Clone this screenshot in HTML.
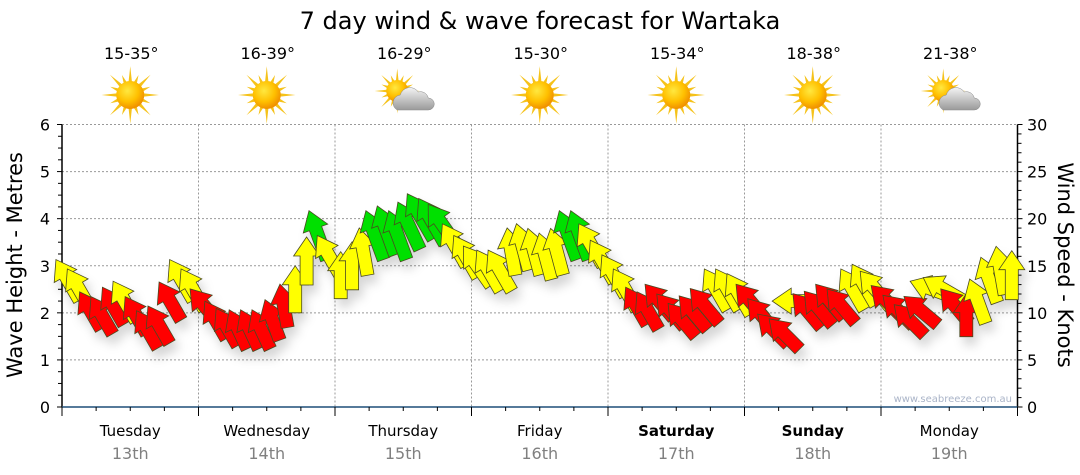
<!DOCTYPE html>
<html><head><meta charset="utf-8"><style>
html,body{margin:0;padding:0;background:#fff;}
svg{display:block;font-family:"DejaVu Sans","Liberation Sans",sans-serif;}
</style></head><body>
<svg id="chart" width="1080" height="475" viewBox="0 0 1080 475" xmlns="http://www.w3.org/2000/svg">
<defs>
<filter id="shadow" x="-50%" y="-50%" width="200%" height="200%"><feDropShadow dx="4" dy="8" stdDeviation="5" flood-color="#000" flood-opacity="0.16"/></filter>
<radialGradient id="sunG" cx="40%" cy="35%" r="65%"><stop offset="0" stop-color="#ffe840"/><stop offset="0.6" stop-color="#ffc000"/><stop offset="1" stop-color="#f09000"/></radialGradient>
<linearGradient id="cloudG" x1="0" y1="0" x2="0" y2="1"><stop offset="0" stop-color="#f4f4f4"/><stop offset="1" stop-color="#9a9a9a"/></linearGradient>
</defs>
<text x="540" y="29" text-anchor="middle" font-size="24" fill="#000">7 day wind &amp; wave forecast for Wartaka</text>
<g id="grid"></g>
<g id="topw"></g>
<g id="axes"></g>
<g id="arrows" filter="url(#shadow)"></g>
<text x="1012" y="402" text-anchor="end" font-size="10" fill="#aab4c8">www.seabreeze.com.au</text>
<text transform="translate(22,265) rotate(-90)" text-anchor="middle" font-size="21" fill="#000">Wave Height - Metres</text>
<text transform="translate(1058,265) rotate(90)" text-anchor="middle" font-size="21" fill="#000">Wind Speed - Knots</text>
</svg>
<script>
const days = ["Tuesday","Wednesday","Thursday","Friday","Saturday","Sunday","Monday"];
const dates = ["13th","14th","15th","16th","17th","18th","19th"];
const temps = ["15-35°","16-39°","16-29°","15-30°","15-34°","18-38°","21-38°"];
const cloudy = [false,false,true,false,false,false,true];
const boldDays = [false,false,false,false,true,true,false];
const waveTicks = [0,1,2,3,4,5,6];
const windTicks = [0,5,10,15,20,25,30];
// 2-hourly: 12 per day
const waveHeight = [
2.7,2.5,2.05,1.95,2.15,2.25,1.95,1.65,1.75,2.25,2.7,2.5,
2.15,1.85,1.7,1.65,1.65,1.65,1.85,2.15,2.5,3.1,3.65,3.2,
2.8,3.0,3.3,3.65,3.75,3.65,3.85,4.05,3.95,3.85,3.45,3.2,
3.0,2.9,2.9,3.3,3.4,3.3,3.2,3.3,3.65,3.65,3.45,3.1,
2.8,2.5,2.15,2.05,2.25,2.05,1.85,2.0,2.15,2.5,2.5,2.4,
2.25,1.95,1.65,1.55,2.25,2.05,2.1,2.25,2.15,2.5,2.6,2.5,
2.25,2.05,1.85,2.05,2.5,2.5,2.15,1.95,2.25,2.7,2.9,2.8];
const windSpeed = [
13,13,9,9,9,12,9,9,9,10,13,13,
10,9,9,9,9,9,9,10,13,14,18,14,
13,14,14,18,18,18,18,18,18,18,14,14,
14,13,13,14,14,14,14,14,18,18,14,14,
13,13,9,9,10,9,9,10,11,13,13,13,
10,9,9,9,13,10,10,10,10,13,13,13,
10,9,9,10,13,13,10,9,13,14,15,15];
const windDir = [
330,330,330,330,330,330,330,330,330,330,330,330,
320,330,330,335,335,335,340,350,0,0,340,330,
0,0,350,340,340,340,335,330,330,325,330,330,
325,330,330,350,345,345,345,345,340,340,330,330,
330,330,330,330,320,320,320,320,320,330,330,330,
320,320,315,315,270,320,320,320,320,330,330,320,
315,315,315,310,290,300,320,0,340,340,350,0];

const NS="http://www.w3.org/2000/svg";
const X0=62, X1=1017.5, Y0=407, Y6=124.5;
const nPts = waveHeight.length;
const xT = t => X0 + (X1-X0)*t/days.length;
const yW = v => Y0 - (Y0-Y6)*v/6;
const yK = v => Y0 - (Y0-Y6)*v/30;
function mk(tag, attrs, parent){const e=document.createElementNS(NS,tag);for(const k in attrs)e.setAttribute(k,attrs[k]);parent.appendChild(e);return e;}
const grid=document.getElementById('grid'), axes=document.getElementById('axes'), topG=document.getElementById('topw'), arrows=document.getElementById('arrows');

waveTicks.forEach(v=>{ if(v>0){ const g=mk('line',{x1:X0,x2:X1,y1:yW(v),y2:yW(v),stroke:'#999','stroke-dasharray':'2,2','stroke-width':1},grid);
 }});
for(let d=1; d<days.length; d++){ const g=mk('line',{x1:xT(d),x2:xT(d),y1:Y6,y2:Y0,stroke:'#999','stroke-dasharray':'2,2','stroke-width':1},grid);
 }

let a=mk('line',{x1:X0,x2:X0,y1:Y6,y2:Y0,stroke:'#000','stroke-width':1.5},axes);
 
a=mk('line',{x1:X1,x2:X1,y1:Y6,y2:Y0,stroke:'#000','stroke-width':1.5},axes);
 
a=mk('line',{x1:X0,x2:X1,y1:Y0,y2:Y0,stroke:'#1f4e79','stroke-width':1.5},axes);
 
for(let i=0;i<=24;i++){const v=i/4;const l=mk('line',{x1:X0-(i%4?4:5),x2:X0,y1:yW(v),y2:yW(v),stroke:'#000','stroke-width':1},axes);
 }
waveTicks.forEach(v=>{const t=mk('text',{x:50,y:yW(v)+6,'text-anchor':'end','font-size':16,fill:'#000'},axes);t.textContent=v;
 });
for(let i=0;i<=30;i++){const l=mk('line',{x1:X1,x2:X1+(i%5?4:5),y1:yK(i),y2:yK(i),stroke:'#000','stroke-width':1},axes);
 }
windTicks.forEach(v=>{const t=mk('text',{x:1027,y:yK(v)+6,'text-anchor':'start','font-size':16,fill:'#000'},axes);t.textContent=v;
 });
for(let i=0;i<=days.length*4;i++){const l=mk('line',{x1:xT(i/4),x2:xT(i/4),y1:Y0,y2:Y0+(i%4?4:9),stroke:'#000','stroke-width':1},axes);
 }

function sun(g,cx,cy,r){
  for(let i=0;i<16;i++){const ang=i*Math.PI/8, L=(i%2?r*1.55:r*2.05), w=0.14;
    const p=[[cx+Math.cos(ang-w)*r*0.9,cy+Math.sin(ang-w)*r*0.9],[cx+Math.cos(ang)*L,cy+Math.sin(ang)*L],[cx+Math.cos(ang+w)*r*0.9,cy+Math.sin(ang+w)*r*0.9]];
    const ray=mk('polygon',{points:p.map(q=>q.join(',')).join(' '),fill:'#f5c21a'},g);
     }
  const c=mk('circle',{cx:cx,cy:cy,r:r,fill:'url(#sunG)'},g);
   
}
days.forEach((d,i)=>{
  const cx=xT(i+0.5);
  const g=mk('g',{},topG);
  
  
  const t=mk('text',{x:cx+1,y:59,'text-anchor':'middle','font-size':16,fill:'#000'},g); t.textContent=temps[i];
   
  if(cloudy[i]){ sun(g,cx-6,91,11);
    const cl=mk('path',{d:`M${cx-6},${110} a8,8 0 0 1 3,-15 a10,10 0 0 1 18,-3 a8,8 0 0 1 10,6 a6,6 0 0 1 0,12 z`,fill:'url(#cloudG)',stroke:'#888','stroke-width':0.5},g);
     
  } else sun(g,cx,95,14);
  const dl=mk('text',{x:cx,y:436,'text-anchor':'middle','font-size':15,fill:'#000','font-weight':boldDays[i]?'bold':'normal'},axes); dl.textContent=d;
   
  const dt=mk('text',{x:cx,y:459,'text-anchor':'middle','font-size':16,fill:'#808080'},axes); dt.textContent=dates[i];
   
});

function col(s){return s<12?'#ff0000':(s<17?'#ffff00':'#00e000');}
for(let i=0;i<nPts;i++){
  const t=(i+0.5)*days.length/nPts;
  const x=xT(t), y=yW(waveHeight[i]), s=windSpeed[i];
  const L=34+s*1.0, hw=13, sw=6.5, hl=19;
  const pts=[[0,-L/2],[hw,-L/2+hl],[sw,-L/2+hl],[sw,L/2],[-sw,L/2],[-sw,-L/2+hl],[-hw,-L/2+hl]];
  const p=mk('polygon',{points:pts.map(q=>q.join(',')).join(' '),fill:col(s),stroke:'#4a4a20','stroke-width':0.8,
    transform:`translate(${x.toFixed(1)},${y.toFixed(1)}) rotate(${windDir[i]})`},arrows);
  
  
}
</script>
</body></html>
